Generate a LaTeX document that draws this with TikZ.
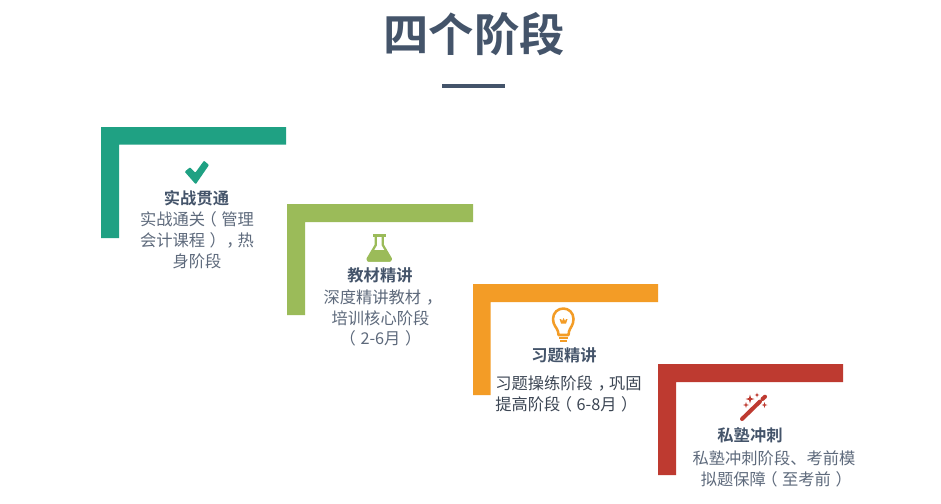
\documentclass[tikz,border=0pt]{standalone}
\usepackage{fontspec}
\setmainfont{Noto Sans CJK SC}[BoldFont={Noto Sans CJK SC Bold}]
\definecolor{slate}{HTML}{44546A}
\definecolor{bodyc}{HTML}{5E6A7C}
\definecolor{darkc}{HTML}{3C4654}
\definecolor{cgreen}{HTML}{1FA183}
\definecolor{colive}{HTML}{9BBB59}
\definecolor{corange}{HTML}{F39C26}
\definecolor{cred}{HTML}{BE3A30}
% punctuation set in the middle of its full-width cell, as in the reference
\newcommand{\lpar}{\hspace*{-.28em}（\hspace*{.28em}}
\newcommand{\rpar}{\hspace*{.28em}）\hspace*{-.28em}}
\newcommand{\ccomma}{\hspace*{.3em}，\hspace*{-.3em}}
\begin{document}
\begin{tikzpicture}[x=0.75pt,y=-0.75pt,
  head/.style={inner sep=0pt,font=\fontsize{12.2}{15}\selectfont\bfseries,text=slate},
  bodytext/.style={inner sep=0pt,align=center,font=\fontsize{12.2}{15.6}\selectfont,text=bodyc},
  title/.style={inner sep=0pt,font=\fontsize{34}{36}\selectfont\bfseries,text=slate},
  sparkle/.style={fill=cred,draw=none}]
\useasboundingbox (0,0) rectangle (941,503);
\fill[white] (0,0) rectangle (941,503);
% title
\node[title] (ttl) at (474,34) {四个阶段};
\fill[slate] (442,83.5) rectangle (505,88);
% steps
\fill[cgreen] (101,127) -- (286,127) -- (286,144.5) -- (119,144.5) -- (119,238) -- (101,238) -- cycle;
\fill[colive] (287,204) -- (473,204) -- (473,222) -- (305,222) -- (305,315) -- (287,315) -- cycle;
\fill[corange] (473,284) -- (658,284) -- (658,302) -- (490.5,302) -- (490.5,395) -- (473,395) -- cycle;
\fill[cred] (658,364) -- (843,364) -- (843,382) -- (676,382) -- (676,475) -- (658,475) -- cycle;
% check icon
\fill[cgreen,rounded corners=0.6pt] (184.7,171.7) -- (195.7,184.3) -- (209,165) -- (204,160.7) -- (195.3,172.7) -- (190,167.3) -- cycle;
% flask icon
\draw[colive,line width=2.2pt,line join=round] (373,235.5) -- (386,235.5);
\draw[colive,line width=1.7pt,line join=round] (375.8,236) -- (375.8,245) -- (367.5,259) -- (368.5,260.5) -- (390,260.5) -- (391,259) -- (382.8,245) -- (382.8,236);
\fill[colive,rounded corners=1pt] (372.5,250) -- (386,250) -- (391.5,261.5) -- (366.5,261.5) -- cycle;
% bulb icon
\draw[corange,line width=1.9pt,line join=round] (558.5,335) -- (558,331.5) .. controls (557,327.5) and (553,325.5) .. (553,319)
  .. controls (553,312.5) and (558,308.5) .. (563.3,308.5) .. controls (568.6,308.5) and (573.5,312.5) .. (573.5,319)
  .. controls (573.5,325.5) and (570,327.5) .. (569,331.5) -- (568.5,335) -- cycle;
\fill[corange] (559.5,319) -- (561,319) -- (562,321) -- (563.5,318) -- (565,321) -- (566,319) -- (567.5,319) -- (566,323.5) -- (561,323.5) -- cycle;
\fill[corange] (559,336.5) rectangle (568,338.5);
\fill[corange] (560,340) rectangle (567,341.5);
% wand icon
\draw[cred,line width=3pt,line cap=round] (742,419) -- (760,401.5);
\draw[cred,line width=3pt,line cap=round] (762.5,399) -- (765,396.7);
\fill[sparkle] (750,394.5) -- (751,398) -- (754.5,399) -- (751,400) -- (750,403.5) -- (749,400) -- (745.5,399) -- (749,398) -- cycle;
\fill[sparkle] (746,402) -- (746.7,404.3) -- (749,405) -- (746.7,405.7) -- (746,408) -- (745.3,405.7) -- (743,405) -- (745.3,404.3) -- cycle;
\fill[sparkle] (764.5,402) -- (765.2,404.3) -- (767.5,405) -- (765.2,405.7) -- (764.5,408) -- (763.8,405.7) -- (761.5,405) -- (763.8,404.3) -- cycle;
\fill[sparkle] (757,392.5) -- (757.6,394.4) -- (759.5,395) -- (757.6,395.6) -- (757,397.5) -- (756.4,395.6) -- (754.5,395) -- (756.4,394.4) -- cycle;
% texts
\node[head] (h1) at (196.5,198) {实战贯通};
\node[bodytext] (b1) at (197,240) {实战通关\lpar 管理\\会计课程\rpar\ccomma 热\\身阶段};
\node[head] (h2) at (380,275) {教材精讲};
\node[bodytext] (b2) at (380.5,318) {深度精讲教材\ccomma\\培训核心阶段\\\lpar 2-6月\rpar};
\node[head] (h3) at (564,355) {习题精讲};
\node[bodytext,align=left,anchor=west,text=darkc] (b3) at (495,394) {习题操练阶段\ccomma 巩固\\提高阶段\lpar 6-8月\rpar};
\node[head] (h4) at (750,435) {私塾冲刺};
\node[bodytext] (b4) at (774,468.5) {私塾冲刺阶段、考前模\\拟题保障\lpar 至考前\rpar};
\end{tikzpicture}
\end{document}
